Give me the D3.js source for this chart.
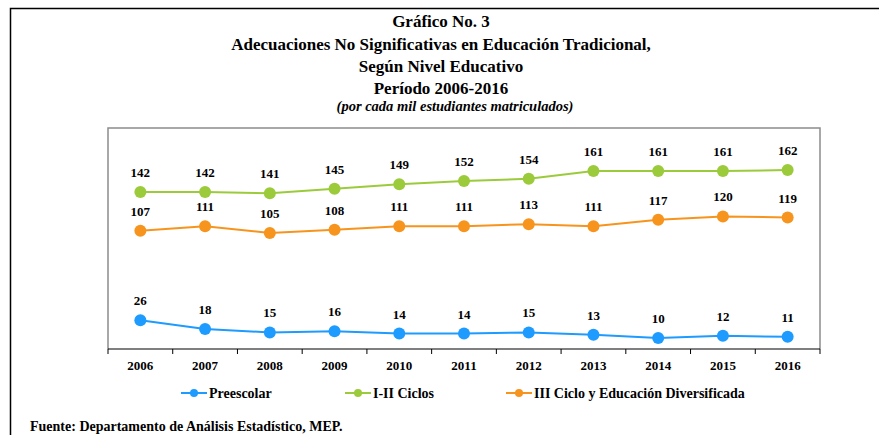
<!DOCTYPE html>
<html>
<head>
<meta charset="utf-8">
<script src="https://cdn.jsdelivr.net/npm/d3@7"></script>
<style>
  body { margin: 0; background: #fff; }
  svg text { font-family: "Liberation Serif", "Times New Roman", serif; font-weight: bold; fill: #000; }
</style>
</head>
<body>
<script>
// chart data
var years = ["2006", "2007", "2008", "2009", "2010", "2011", "2012", "2013", "2014", "2015", "2016"];
var preescolar = [26, 18, 15, 16, 14, 14, 15, 13, 10, 12, 11];
var ciclosI_II = [142, 142, 141, 145, 149, 152, 154, 161, 161, 161, 162];
var cicloIII = [107, 111, 105, 108, 111, 111, 113, 111, 117, 120, 119];
var seriesNames = ["Preescolar", "I-II Ciclos", "III Ciclo y Educación Diversificada"];
var seriesColors = ["#1E9BFF", "#9BCB3B", "#F7941D"];

var width = 879, height = 435;
var plot = { left: 108, top: 128, right: 820, bottom: 349 };

var svg = d3.select("body").append("svg")
    .attr("width", width)
    .attr("height", height);

// outer frame
svg.append("path")
    .attr("d", "M10.5," + height + "V8.5H" + width)
    .attr("fill", "none")
    .attr("stroke", "#000")
    .attr("stroke-width", 1.5);

// titles
var titles = [
    { t: "Gráfico No. 3", y: 27 },
    { t: "Adecuaciones No Significativas en Educación Tradicional,", y: 50 },
    { t: "Según Nivel Educativo", y: 72 },
    { t: "Período 2006-2016", y: 94 }
];
svg.selectAll("text.title").data(titles).enter().append("text")
    .attr("class", "title")
    .attr("x", 441)
    .attr("y", function (d) { return d.y; })
    .attr("text-anchor", "middle")
    .style("font-size", "17px")
    .text(function (d) { return d.t; });

svg.append("text")
    .attr("x", 455)
    .attr("y", 111)
    .attr("text-anchor", "middle")
    .style("font-size", "14.5px")
    .style("font-style", "italic")
    .text("(por cada mil estudiantes matriculados)");

var x = d3.scaleBand().domain(years).range([plot.left, plot.right]);
var y = d3.scaleLinear().domain([0, 200]).range([plot.bottom, plot.top]);

// plot area border (left, top, right)
svg.append("path")
    .attr("d", "M" + plot.left + "," + plot.bottom + "V" + plot.top + "H" + plot.right + "V" + plot.bottom)
    .attr("fill", "none")
    .attr("stroke", "#8c8c8c")
    .attr("stroke-width", 1.5);

// x axis with ticks on the band edges
var xAxis = svg.append("g").attr("transform", "translate(0," + plot.bottom + ")");
xAxis.append("line")
    .attr("x1", plot.left).attr("x2", plot.right)
    .attr("stroke", "#000").attr("stroke-width", 1.2);
var edges = years.map(function (d) { return x(d); }).concat([plot.right]);
xAxis.selectAll("line.tick").data(edges).enter().append("line")
    .attr("class", "tick")
    .attr("x1", function (d) { return d; }).attr("x2", function (d) { return d; })
    .attr("y1", 0).attr("y2", 5)
    .attr("stroke", "#000");
xAxis.selectAll("text").data(years).enter().append("text")
    .attr("x", function (d) { return x(d) + x.bandwidth() / 2; })
    .attr("y", 21)
    .attr("text-anchor", "middle")
    .style("font-size", "13px")
    .text(function (d) { return d; });

var series = [preescolar, ciclosI_II, cicloIII];
var line = d3.line()
    .x(function (d, i) { return x(years[i]) + x.bandwidth() / 2; })
    .y(function (d) { return y(d); });

series.forEach(function (vals, s) {
    var g = svg.append("g");
    g.append("path")
        .attr("d", line(vals))
        .attr("fill", "none")
        .attr("stroke", seriesColors[s])
        .attr("stroke-width", 2);
    g.selectAll("circle").data(vals).enter().append("circle")
        .attr("cx", function (d, i) { return x(years[i]) + x.bandwidth() / 2; })
        .attr("cy", function (d) { return y(d); })
        .attr("r", 6)
        .attr("fill", seriesColors[s]);
    g.selectAll("text").data(vals).enter().append("text")
        .attr("x", function (d, i) { return x(years[i]) + x.bandwidth() / 2; })
        .attr("y", function (d) { return y(d) - 15; })
        .attr("text-anchor", "middle")
        .style("font-size", "13px")
        .text(function (d) { return d; });
});

// legend
var legendX = [181, 345, 506];
var legend = svg.selectAll("g.legend").data(seriesNames).enter().append("g")
    .attr("class", "legend")
    .attr("transform", function (d, i) { return "translate(" + legendX[i] + ",393)"; });
legend.append("line")
    .attr("x1", 0).attr("x2", 26)
    .attr("stroke", function (d, i) { return seriesColors[i]; })
    .attr("stroke-width", 2);
legend.append("circle")
    .attr("cx", 13).attr("r", 4)
    .attr("fill", function (d, i) { return seriesColors[i]; });
legend.append("text")
    .attr("x", 28)
    .attr("y", 5)
    .style("font-size", "14px")
    .text(function (d) { return d; });

// source
svg.append("text")
    .attr("x", 30)
    .attr("y", 431)
    .style("font-size", "14px")
    .text("Fuente:  Departamento de Análisis Estadístico, MEP.");
</script>
</body>
</html>
